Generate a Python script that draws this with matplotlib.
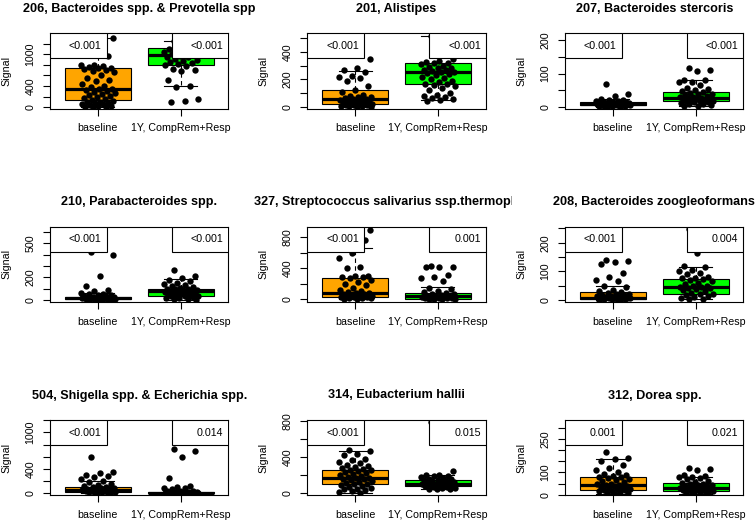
"""
plot.py
boxplots + jittered points, baseline vs 1Y (CompRem+Resp), 3x3 panels
"""

import numpy as np
import matplotlib
matplotlib.use('Agg')
import matplotlib.pyplot as plt
from matplotlib.patches import Rectangle
from matplotlib.transforms import Bbox, TransformedBbox

plt.rcParams['font.family'] = ['Liberation Sans', 'DejaVu Sans']

## panel titles / group labels / p-values
TITLES = ['206, Bacteroides spp. & Prevotella spp',
          '201, Alistipes',
          '207, Bacteroides stercoris',
          '210, Parabacteroides spp.',
          '327, Streptococcus salivarius ssp.thermophilus',
          '208, Bacteroides zoogleoformans',
          '504, Shigella spp. & Echerichia spp.',
          '314, Eubacterium hallii',
          '312, Dorea spp.']
GROUPS = ['baseline', '1Y, CompRem+Resp']
P_BASE = ['<0.001', '<0.001', '<0.001', '<0.001', '<0.001', '<0.001', '<0.001', '<0.001', '0.001']
P_FOLLOW = ['<0.001', '<0.001', '<0.001', '<0.001', '0.001', '0.004', '0.014', '0.015', '0.021']

## box stats : (q1, med, q3, whisker low, whisker high)
BOX_BASE = [(140, 336, 749, 0, 1310),
            (19, 56, 121, 0, 262),
            (5, 10, 14, 0, 25),
            (5, 15, 25, 0, 60),
            (22, 77, 271, 0, 658),
            (3, 8, 26, 0, 50),
            (22, 44, 93, 0, 200),
            (103, 165, 250, 5, 470),
            (22, 45, 79, 5, 161)]
BOX_FOLLOW = [(794, 984, 1111, 394, 1250),
              (165, 255, 320, 48, 510),
              (17, 28, 45, 2, 82),
              (35, 75, 100, 0, 180),
              (5, 34, 77, 0, 155),
              (20, 44, 74, 2, 116),
              (0, 8, 18, 0, 35),
              (75, 100, 140, 44, 198),
              (19, 30, 52, 5, 79)]

## signal values (points)
base_206 = [1340, 1310, 1150, 1010, 960, 800, 790, 770, 760, 750, 740, 720, 700, 690, 660, 600, 560, 510, 490, 430,
            400, 380, 350, 340, 330, 300, 290, 270, 250, 230, 210, 190, 170, 150, 140, 120, 100, 90, 80, 70, 60, 50,
            40, 30, 20, 10, 5, 0]
follow_206 = [1250, 1200, 1150, 1100, 1080, 1060, 1040, 1020, 1000, 980, 960, 950, 940, 920, 900, 880, 860, 840, 820,
              800, 780, 720, 700, 690, 520, 400, 380, 150, 120, 100]
base_201 = [376, 350, 280, 270, 255, 225, 215, 210, 185, 150, 125, 110, 90, 80, 75, 70, 65, 60, 55, 50, 48, 45, 42,
            40, 35, 30, 28, 25, 20, 18, 15, 12, 10, 8, 5, 3, 0]
follow_201 = [510, 345, 335, 325, 320, 315, 310, 300, 290, 285, 280, 270, 265, 260, 255, 250, 245, 240, 230, 220, 210,
              200, 190, 180, 170, 165, 160, 150, 140, 120, 100, 90, 80, 75, 65, 55, 50, 45]
base_207 = [68, 38, 33, 25, 22, 20, 18, 17, 16, 15, 14, 14, 13, 12, 12, 11, 10, 10, 10, 9, 9, 8, 8, 7, 7, 6, 6, 5, 5,
            4, 3, 2, 2, 1, 0]
follow_207 = [115, 110, 107, 82, 80, 76, 75, 65, 58, 55, 50, 48, 45, 42, 40, 38, 35, 33, 30, 29, 28, 27, 25, 24, 23,
              22, 20, 19, 18, 17, 16, 14, 12, 10, 8, 5, 3, 2]
base_210 = [420, 394, 212, 124, 90, 80, 60, 55, 50, 45, 40, 35, 30, 28, 25, 22, 20, 18, 16, 15, 14, 12, 10, 9, 8, 6,
            5, 4, 3, 2, 1, 0]
follow_210 = [265, 210, 190, 175, 165, 150, 140, 130, 120, 110, 105, 100, 97, 95, 90, 85, 80, 78, 75, 72, 70, 65, 60,
              55, 50, 45, 40, 38, 35, 30, 25, 20, 15, 10, 5, 0]
base_327 = [930, 900, 880, 860, 760, 600, 530, 420, 400, 300, 295, 290, 280, 270, 250, 220, 200, 180, 150, 120, 100,
            90, 80, 77, 70, 60, 50, 45, 40, 35, 30, 25, 22, 20, 15, 10, 5, 0]
follow_327 = [430, 420, 415, 410, 310, 280, 270, 240, 150, 130, 110, 90, 80, 70, 60, 50, 40, 35, 34, 30, 25, 20, 15,
              12, 10, 8, 5, 3, 2, 0]
base_208 = [138, 135, 133, 125, 93, 80, 70, 65, 50, 45, 35, 30, 28, 25, 22, 20, 18, 16, 14, 12, 10, 9, 8, 8, 7, 6, 5,
            5, 4, 3, 3, 2, 1, 0]
follow_208 = [248, 218, 165, 120, 115, 105, 100, 95, 90, 80, 78, 75, 72, 70, 65, 60, 55, 50, 48, 45, 44, 42, 40, 38,
              35, 30, 25, 22, 20, 18, 15, 10, 5, 3, 2]
base_504 = [600, 340, 330, 300, 290, 260, 240, 200, 180, 150, 130, 110, 100, 93, 90, 80, 70, 60, 55, 50, 45, 44, 40,
            35, 30, 25, 22, 20, 15, 10, 5, 0]
follow_504 = [720, 700, 600, 250, 110, 100, 90, 85, 60, 40, 35, 30, 25, 20, 18, 15, 12, 10, 8, 7, 6, 5, 4, 3, 2, 1,
              0, 0]
base_314 = [475, 460, 430, 415, 380, 360, 340, 335, 310, 300, 290, 280, 270, 260, 250, 240, 230, 220, 210, 200, 190,
            180, 170, 165, 160, 150, 140, 130, 120, 110, 103, 100, 90, 80, 70, 60, 50, 40, 30, 20, 10, 5]
follow_314 = [780, 240, 200, 195, 190, 185, 175, 165, 160, 150, 145, 140, 135, 130, 125, 120, 115, 110, 105, 100, 95,
              90, 85, 80, 75, 70, 65, 60, 55, 50, 45, 40]
base_312 = [192, 165, 160, 150, 135, 120, 110, 100, 95, 90, 85, 80, 79, 75, 70, 65, 60, 55, 50, 48, 45, 42, 40, 38,
            35, 32, 30, 28, 25, 22, 20, 18, 15, 12, 10, 8, 5]
follow_312 = [120, 115, 110, 90, 85, 80, 78, 75, 70, 60, 55, 52, 50, 48, 45, 42, 40, 38, 35, 32, 30, 28, 25, 22, 20,
              19, 18, 15, 12, 10, 8, 5]

POINTS = [(base_206, follow_206), (base_201, follow_201), (base_207, follow_207),
          (base_210, follow_210), (base_327, follow_327), (base_208, follow_208),
          (base_504, follow_504), (base_314, follow_314), (base_312, follow_312)]

## axis set-up : y limits, tick step, labelled ticks
Y_LIMS = [(-30, 1398), (-12, 533), (-5, 220), (-20, 647), (-39, 938), (-8, 256), (-38, 1205), (-26, 807), (-3, 336)]
Y_STEP = [200, 100, 50, 100, 200, 50, 200, 200, 50]
Y_TOP = [1200, 500, 200, 600, 800, 250, 1200, 800, 300]
Y_LABELED = [(0, 400, 1000), (0, 200, 400), (0, 100, 200), (0, 200, 500), (0, 400, 800),
             (0, 100, 200), (0, 400, 1000), (0, 400, 800), (0, 100, 250)]

## layout in pixels
W_PX, H_PX = 756, 524
COL_LEFT = [50, 307.3, 565]
ROW_TOP = [33.3, 226.7, 420]
AX_W, AX_H = 178.5, 75.4
TITLE_CLIP = [(0, 256), (252, 512), (512, 756)]

COLORS = ['#FFA500', '#00FF00']
FS = 7.7


def plot_panels():
    '''
    draw the 3x3 grid
    '''
    fig = plt.figure(figsize=(W_PX / 100, H_PX / 100), dpi=100)

    for k in range(9):
        row, col = divmod(k, 3)
        left = COL_LEFT[col] / W_PX
        bottom = 1 - (ROW_TOP[row] + AX_H) / H_PX
        ax = fig.add_axes([left, bottom, AX_W / W_PX, AX_H / H_PX])

        stats = []
        for box in (BOX_BASE[k], BOX_FOLLOW[k]):
            q1, med, q3, lo, hi = box
            stats.append({'q1': q1, 'med': med, 'q3': q3, 'whislo': lo, 'whishi': hi, 'fliers': []})

        bp = ax.bxp(stats, positions=[1, 2], widths=0.8, patch_artist=True, showfliers=False,
                    boxprops=dict(edgecolor='black', linewidth=0.8),
                    medianprops=dict(color='black', linewidth=2.3, solid_capstyle='butt'),
                    whiskerprops=dict(color='black', linewidth=0.8, linestyle=(0, (4, 3))),
                    capprops=dict(color='black', linewidth=0.8))
        for patch, colr in zip(bp['boxes'], COLORS):
            patch.set_facecolor(colr)

        # jittered points
        for pos, vals in zip([1, 2], POINTS[k]):
            n = len(vals)
            offs = ((np.arange(n) * 0.618034 + 0.31) % 1.0 - 0.5) * 0.42
            ax.scatter(pos + offs, vals, s=21, color='black', zorder=3, linewidths=0)

        ax.set_xlim(0.42, 2.58)
        ax.set_ylim(*Y_LIMS[k])
        ax.set_xticks([1, 2])
        ax.set_xticklabels(GROUPS, fontsize=FS)
        yt = list(range(0, Y_TOP[k] + 1, Y_STEP[k]))
        ax.set_yticks(yt)
        ax.set_yticklabels([str(v) if v in Y_LABELED[k] else '' for v in yt],
                           fontsize=FS, rotation=90, va='center')
        ax.tick_params(direction='out', length=5, width=0.8, pad=5.5)
        for sp in ax.spines.values():
            sp.set_linewidth(0.8)

        ax.text(-44 / AX_W, 0.5, 'Signal', transform=ax.transAxes, rotation=90,
                ha='center', va='center', fontsize=FS)

        # p-value boxes
        for x0, ptxt in ((0.0, P_BASE[k]), (0.683, P_FOLLOW[k])):
            ax.add_patch(Rectangle((x0, 2 / 3), 0.317, 1 / 3, transform=ax.transAxes,
                                   facecolor='white', edgecolor='black', linewidth=0.8, zorder=4))
            ax.text(x0 + 0.317 - 5 / AX_W, 5 / 6, ptxt, transform=ax.transAxes,
                    ha='right', va='center', fontsize=FS, zorder=5)

        # title, clipped to its column
        xc = (COL_LEFT[col] + AX_W / 2) / W_PX
        yc = 1 - (ROW_TOP[row] - 24.5) / H_PX
        t = fig.text(xc, yc, TITLES[k], ha='center', va='center', fontsize=9.1, fontweight='bold')
        c0, c1 = TITLE_CLIP[col]
        t.set_clip_box(TransformedBbox(Bbox.from_extents(c0 / 100, 0, c1 / 100, H_PX / 100),
                                       fig.dpi_scale_trans))
        t.set_clip_on(True)

    fig.savefig('out.png', dpi=100)


if __name__ == '__main__':
    plot_panels()
